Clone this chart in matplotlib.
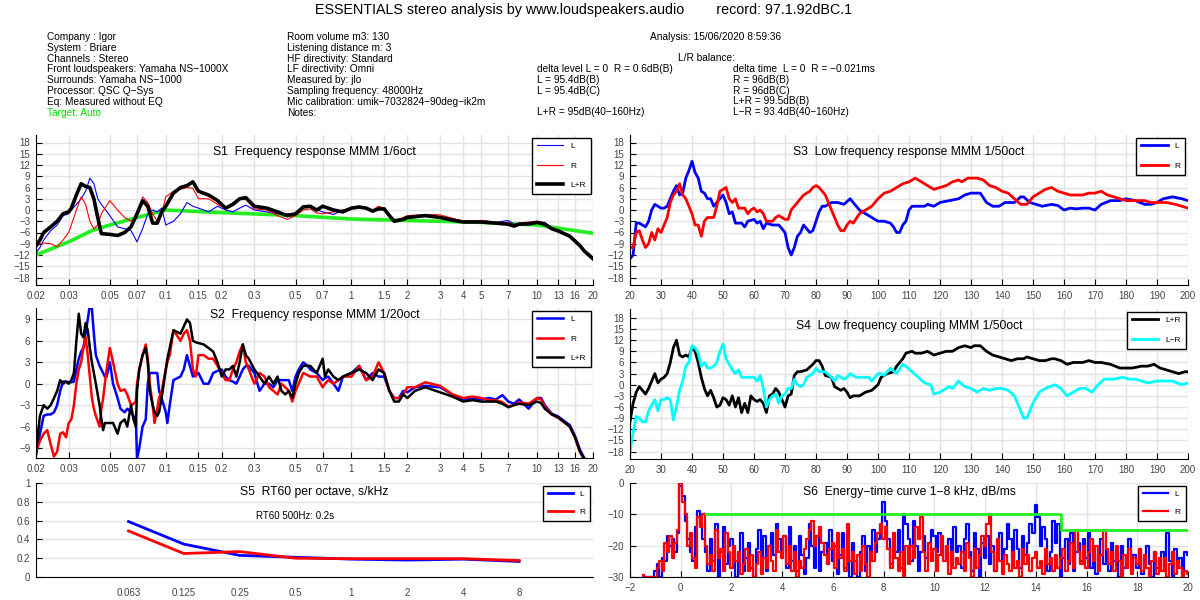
import numpy as np
import matplotlib
matplotlib.use('Agg')
import matplotlib.pyplot as plt

plt.rcParams['font.family'] = ['Liberation Sans', 'DejaVu Sans']

# ---------------- S1 : 1/6 oct response (kHz, dB) ----------------
s1_f = [0.02, 0.021, 0.022, 0.024, 0.026, 0.028, 0.03, 0.031, 0.033, 0.035, 0.037, 0.039,
        0.041, 0.043, 0.045, 0.05, 0.055, 0.06, 0.065, 0.07, 0.075, 0.08, 0.085, 0.09, 0.095,
        0.1, 0.11, 0.12, 0.13, 0.14, 0.15, 0.17, 0.19, 0.21, 0.23, 0.25, 0.27, 0.3, 0.35, 0.4,
        0.45, 0.5, 0.55, 0.6, 0.65, 0.7, 0.8, 0.9, 1.0, 1.1, 1.2, 1.3, 1.4, 1.5, 1.6, 1.7, 1.9,
        2.0, 2.5, 3, 3.5, 4, 5, 6, 7, 7.5, 8, 9, 10, 11, 12, 13, 15, 17, 18, 20]
s1_sum = [-9.5, -8, -6, -4.5, -3, -1, -0.5, 0.5, 4, 7, 6.3, 6, 3, -2, -6.3, -6.5, -6.8, -6,
          -4.5, -1, 2.5, 1, -3.5, -3.5, -0.5, 1, 4.5, 6, 6.5, 7.5, 5, 4, 2.5, 0.5, 1.5, 3, 3.3,
          1, 0.5, -0.5, -1.5, -1, 0.8, 1, 0, 1, 0, -0.5, 0.5, 0.8, 0.5, -0.3, 0.3, 0.3, -1.5, -3,
          -2.5, -2, -1.5, -2, -2.7, -3.2, -3.2, -3.5, -3.8, -4.3, -3.8, -3.7, -3.3, -3.8, -5,
          -5.6, -7, -9.5, -11, -13]
s1_L = [-11.5, -10, -8, -5.5, -4, -1.5, -1, 0, 1.5, 3, 5, 8.5, 7, 3, 1.5, -1.5, -4.5, -5,
        -5.5, -8.5, -5, -1, 0, -0.5, 0.5, -4, -3, -1, 2, 1, 0.5, -0.5, 1, 0, -0.5, 0.5, 1.3,
        0, -0.5, -1, -1, -1, 1.2, 1.2, 0, -0.5, -1.2, 0, 0.5, 1, 0.5, 0, 0.5, 0, -1.5, -2.8,
        -2.3, -1.8, -1.3, -1.8, -2.3, -3, -2.8, -3.3, -2.8, -3.8, -3.5, -3.5, -3.2, -3.3, -4.8,
        -5.4, -6.8, -9.2, -10.7, -12.7]
s1_R = [-10, -9, -8.8, -9, -9.8, -8, -6, -4, 0, 3.5, 1.5, -3, -5, -4, -1, 2.5, 0, -2, -3,
        -2, 3.5, 2, -1, -3, -1, 3.5, 5, 5.5, 6, 5.8, 3, 3, 1.5, 0.5, 2, 2.8, 2.8, 0.3, 0,
        -1.5, -2.5, -1.5, 0, 0.3, -0.8, -1, -0.5, 0, 0.5, 1, 0.6, 0, 1, 0.5, -1.5, -2.8, -2,
        -1.5, -1.2, -1.3, -2.2, -3, -2.8, -3.3, -3.3, -4, -3.5, -3.2, -3, -3.5, -4.8, -5.3,
        -6.8, -9.3, -10.8, -12.8]
target_f = [0.02, 0.03, 0.04, 0.05, 0.07, 0.1, 0.2, 0.5, 1, 2, 5, 10, 20]
target_db = [-12, -8.5, -5.5, -4, -2, 0, -0.7, -1.5, -2.4, -2.8, -3.3, -4, -6.2]

# ---------------- S2 : 1/20 oct response ----------------
s2_f = [0.02, 0.021, 0.022, 0.023, 0.024, 0.025, 0.026, 0.027, 0.028, 0.029, 0.03, 0.031,
        0.032, 0.033, 0.034, 0.035, 0.036, 0.037, 0.038, 0.039, 0.04, 0.041, 0.042, 0.044,
        0.045, 0.046, 0.047, 0.048, 0.05, 0.052, 0.055, 0.057, 0.06, 0.062, 0.065, 0.067,
        0.069, 0.07, 0.072, 0.075, 0.078, 0.08, 0.082, 0.085, 0.087, 0.09, 0.092, 0.095,
        0.1, 0.102, 0.105, 0.11, 0.12, 0.125, 0.13, 0.135, 0.14, 0.145, 0.15, 0.16, 0.17,
        0.18, 0.19, 0.2, 0.21, 0.22, 0.23, 0.24, 0.25, 0.26, 0.27, 0.28, 0.3, 0.32, 0.34,
        0.36, 0.38, 0.4, 0.42, 0.44, 0.46, 0.48, 0.5, 0.52, 0.55, 0.58, 0.6, 0.65, 0.7, 0.72,
        0.75, 0.8, 0.85, 0.9, 1.0, 1.1, 1.2, 1.3, 1.4, 1.5, 1.6, 1.7, 1.8, 1.9, 2.0, 2.2, 2.5,
        3, 3.5, 4, 4.5, 5, 5.5, 6, 6.5, 7, 7.5, 8, 9, 10, 10.5, 11, 12, 13, 15, 16, 17, 18]
s2_sum = [-9.5, -4.5, -3, -3.5, -3, -2, -1, 0.5, 0, 0.3, 0, 0.5, 1.5, 6, 9.8, 7, 6.5, 8.5,
          7.5, 5, 3, 1.5, 0, -3, -5, -6.5, -5.5, -5.5, -5.5, -5.5, -7, -5.5, -5, -6, -3, -5,
          -6, -1, 2, 4, 5, 3, -1, -3, -4, -4.5, -4, -2, 2, 3.5, 5, 7.5, 7, 8, 9, 8.5, 6, 5.8,
          5.7, 5.5, 5, 4.5, 3, 1, 2, 2, 2.5, 1, 3, 5.5, 4, 3.5, 2, 1, 0, 1, 0, 1, -1, -1.5,
          -1, -2, 0, 1.5, 2.5, 2.5, 2.5, 1.5, 3.5, 1, 2, 1, 0.5, 1, 1.5, 2, 1.5, 0.5, 2, 1.5,
          -1, -2.5, -2.5, -1.5, -2, -1, -0.5, -1.2, -1.8, -2.5, -2.3, -2.5, -2.5, -2.5, -2.8,
          -3.3, -3, -2.8, -3, -2.5, -2.7, -3.5, -4.3, -4.7, -6, -7.5, -9.5, -10.5]
s2_L = [-10, -7, -4.5, -4.3, -4.3, -4, -3, -1, 0.3, 0.3, 0.2, 0.2, 0.3, 2, 3.5, 4.5, 5,
        7, 9, 11, 10.5, 7, 4, 2.5, 2, 1.5, 1, 1, 3, 0, -2, -3.5, -4, -3.5, -4, -4.5, -5,
        -10.5, -9, -6, -5, 0, 1.5, 1.5, 1.5, 1.5, -1, -2, -4, -5.5, -3, 0.5, 1, 2, 4, 2.5,
        1, 1.2, 1.5, 0, 0, 1.5, 1.8, 2, 1, 0.5, 0.3, 0, 1, 2, 2.5, 2.5, 1.5, -1, 0, 0, -0.5,
        0.5, 0.5, 0.5, 0.5, -1, 1, 2, 3, 2.5, 2, 1.5, 0.5, 0.8, 1, 0, -1, 1, 1.5, 2.5, 0.5,
        1.5, 1, 1, -1, -2, -2, -1, -1.2, -0.5, -0.3, -0.5, -1.5, -2.2, -2, -2.2, -2, -2.2,
        -1.6, -2.5, -2.8, -2.2, -3.5, -2, -2, -3, -4.2, -4.6, -5.8, -7.3, -9.2, -10.5]
s2_R = [-9.5, -8, -7, -6.5, -8.5, -10.2, -9.5, -7, -6.8, -7.5, -5.5, -5, -3, 0, 2, 3, 5,
        6.5, 4, 1, -2, -3.5, -4.5, -6, -3.5, -2, 0, 2, 5, 3, 0, -1, -0.8, -1.5, -3, -2.8,
        -2.5, 0, 2, 4, 5.5, 3.5, 0, -3, -5.5, -3.5, -2, -1, 2, 3, 4, 7.5, 6, 7, 7.5, 6, 2,
        1, 4, 4, 3.5, 3.5, 2.5, 1.5, 0.5, 0.5, 2, 3, 4.5, 5.5, 3, 2, 0, 1.5, 1, -0.5, -1,
        -1.5, 0, -0.5, -1, -2.5, -1, 0, 1.5, 1.2, 1, 1, -0.5, 0, 0.5, 0, 0.5, 1, 1, 2.5,
        0.5, 1, 3, 1.5, -1, -2, -2, -1.5, -0.5, -0.5, 0.2, -0.3, -1.5, -2, -1.8, -2, -2.3,
        -2.3, -2.6, -3.2, -3, -2.6, -2.8, -2, -2.2, -3.2, -4.3, -4.8, -6, -7.5, -9.5, -10.8]

# ---------------- S3 : low frequency response 1/50 oct (Hz, dB) ----------------
s3L_f = [20, 21, 22, 23, 24, 25, 26, 27, 28, 29, 30, 31, 32, 33, 34, 35, 36, 37, 38, 39,
         40, 41, 42, 43, 44, 45, 46, 47, 48, 49, 50, 51, 52, 53, 54, 56, 57, 58, 60, 61, 62,
         63, 64, 66, 68, 70, 71, 72, 73, 74, 75, 76, 77, 78, 79, 80, 81, 82, 83, 85, 87, 89,
         91, 92, 94, 96, 98, 100, 102, 104, 105, 106, 107, 108, 109, 110, 111, 113, 115,
         116, 118, 120, 123, 126, 128, 130, 132, 133, 135, 137, 139, 141, 144, 146, 147,
         149, 151, 153, 156, 158, 160, 162, 164, 166, 168, 170, 172, 175, 178, 180, 183,
         186, 188, 190, 192, 195, 198, 200]
s3L_db = [-13, -12, -3.5, -3.5, -4, -4.5, -3, 0, 1.5, 1, 0.5, 0.5, 1, 3, 5, 6.5, 4, 4.5,
          8.5, 10.5, 13, 10, 8.5, 5, 4.5, 3, 3, 1, 2, 3, 4, 2, -1, -0.5, -3.5, -3.5, -4.5,
          -3, -2.5, -3.5, -3, -5, -3.5, -4, -4, -6, -10, -12, -10, -7, -6, -4, -5, -6, -5.5,
          -3, -0.5, 1, 1, 2, 2, 1.5, 3, 2, 0, -1, -2, -3, -3, -3.5, -4.5, -6, -6, -4, -3, 0,
          1, 1, 1, 1.5, 1, 2, 2.5, 3, 4, 4.5, 4.5, 4.5, 2, 1, 1, 2, 2, 3.5, 3.5, 2, 1.5, 1,
          1.5, 1.2, 0, 0.5, 0.3, 0.5, 0.5, 0, 1.5, 2.5, 2.5, 3, 2.5, 1.5, 1.5, 2, 3, 3.5, 3,
          2.5]
s3R_f = [20, 21, 22, 23, 24, 25, 26, 27, 28, 29, 30, 31, 32, 33, 34, 35, 36, 37, 38, 39,
         40, 41, 42, 43, 44, 45, 47, 48, 49, 50, 51, 52, 53, 54, 55, 57, 58, 59, 60, 61, 62,
         63, 64, 66, 67, 68, 70, 71, 72, 74, 76, 78, 79, 80, 81, 83, 84, 85, 86, 87, 88, 89,
         90, 91, 92, 94, 96, 97, 98, 100, 102, 104, 106, 108, 110, 112, 113, 115, 117, 118,
         120, 122, 124, 126, 127, 129, 132, 134, 136, 138, 140, 142, 144, 146, 148, 150,
         152, 154, 156, 158, 160, 162, 164, 166, 168, 170, 172, 174, 176, 178, 180, 183,
         186, 188, 190, 193, 196, 198, 200]
s3R_db = [-10, -10, -6, -5.5, -8, -10, -9, -6, -8, -5, -6, -4, -2, 2, 4, 5, 7, 4, 3, 1, -1,
          -4, -4, -7, -3, -2, -2, 1, 5, 5.5, 6, 3, 2, 3, 0.5, 0.5, -1, 0, 0.5, -0.5, 0, -1,
          -3, -3, -2, -1.5, -2.5, -2.5, 0, 2, 4, 5, 6, 6.5, 6, 4, 2, 0, -2, -4, -5.5, -5.5,
          -4, -3, -3.5, -1, 0, 0.5, 1, 3, 4.5, 5, 6, 7, 7.5, 8.5, 8, 7, 6, 5.5, 6, 6.5, 7.5,
          8, 7.5, 8.5, 8.5, 8, 6.5, 6, 5, 4.5, 3, 1.5, 1.5, 3.5, 4.5, 5.5, 6, 5, 4.5, 4, 4,
          4, 4.5, 4.5, 5, 4, 3.5, 3, 2.5, 2.5, 2.5, 2, 2, 2, 1.5, 1, 0.5]

# ---------------- S4 : low frequency coupling ----------------
s4S_f = [20, 21, 22, 23, 24, 25, 26, 27, 28, 29, 30, 31, 32, 33, 34, 35, 36, 37, 38, 39,
         40, 41, 42, 43, 44, 45, 46, 47, 48, 49, 50, 51, 52, 53, 54, 55, 56, 57, 58, 59, 60,
         61, 62, 63, 64, 65, 66, 67, 68, 69, 70, 71, 72, 73, 74, 75, 77, 79, 80, 81, 82, 83,
         85, 86, 88, 89, 90, 91, 92, 94, 96, 98, 100, 101, 103, 105, 106, 108, 109, 111,
         112, 114, 116, 118, 120, 122, 124, 126, 128, 130, 131, 133, 135, 137, 139, 141,
         143, 145, 147, 148, 150, 152, 154, 156, 157, 159, 161, 163, 166, 168, 170, 172,
         175, 178, 182, 185, 187, 189, 191, 193, 195, 197, 199, 200]
s4S_db = [-10, -5, -2, -0.5, -1.5, -2.5, -1, 1, 3, 0.5, 1.5, 2, 3, 6, 10, 12, 8, 7.5, 8,
          7.5, 10, 9, 6, 2, -1, -3, -1.5, -3.5, -6, -5.5, -3.5, -4, -5.5, -3, -6, -3.5,
          -7.5, -5, -7.5, -3, -4, -4.5, -4, -5, -7.5, -3, -2.5, -1, -2, -4, -6, -3, -2.5, 2.5,
          3.5, 3.5, 4, 5.5, 6.5, 6.5, 5, 2.5, 2, -0.5, -1.5, -1, -2, -3.5, -3, -3, -2, -1.5,
          0, 2, 3, 3.5, 5, 7, 8.5, 9, 8.5, 8.5, 9, 8, 8.5, 9, 9, 10, 10.5, 10, 10.5, 10.5, 9,
          8, 7.5, 7, 6.5, 7, 7, 7.5, 7, 6.5, 6.5, 7, 7, 6.5, 5.5, 6, 6, 6.5, 6, 6, 5.5, 4.5,
          4.5, 5, 5, 5.5, 4.5, 4, 3.5, 3, 3.5, 3.5]
s4D_f = [20, 21, 22, 23, 24, 25, 26, 27, 28, 29, 30, 31, 32, 33, 34, 35, 36, 37, 38, 39,
         40, 41, 42, 43, 44, 45, 46, 47, 48, 49, 50, 51, 52, 53, 54, 55, 56, 58, 60, 61, 62,
         63, 64, 65, 66, 67, 68, 69, 70, 71, 72, 73, 74, 75, 76, 77, 79, 80, 81, 83, 85, 86,
         87, 88, 89, 90, 91, 93, 95, 97, 98, 100, 101, 102, 103, 104, 106, 108, 109, 111,
         113, 115, 117, 118, 120, 122, 123, 124, 126, 128, 130, 132, 134, 136, 138, 140,
         142, 144, 146, 147, 148, 150, 152, 154, 157, 159, 161, 163, 165, 167, 169, 171,
         173, 176, 179, 181, 183, 185, 187, 190, 193, 195, 198, 200]
s4D_db = [-18, -13, -8.5, -9, -10, -10, -7, -5.5, -4, -7, -4, -4, -3.5, -4, -9.5, -6, -1.5,
          1, 5, 6, 10.5, 10, 8.5, 5, 6, 4.5, 4.5, 5, 6, 9, 11, 7, 5.5, 4, 3, 4, 2, 2, 2, 1,
          2.5, -1, -6, -4, -3, -2.5, -5, -3, -2.5, -1, -1, 1.5, 0, -0.5, 0, 2, 3, 4.5, 3.5,
          3.5, 2, 1, 2.5, 2, 1.5, 2, 3, 2, 2, 2, 1, 3, 3, 2.5, 3.5, 4.5, 3, 5.5, 5, 3.5, 2,
          0.5, 0, -2.5, -2, -1, -0.5, -1, 1, -0.5, -1, -2, -1, -1.5, -1, -1, -1.5, -3, -7,
          -9, -9, -5, -2, -1, 0, -1, -3, -2, -1, -1, -2, 0, 1.5, 1.5, 2, 1.5, 1.5, 1, 0.5, 1,
          1, 1, 0, 0.5]

# ---------------- S5 : RT60 per octave (kHz, s) ----------------
rt_f = [0.063, 0.125, 0.25, 0.5, 1, 2, 4, 8]
rt_labels = ['0.063', '0.125', '0.25', '0.5', '1', '2', '4', '8']
rt_L = [0.59, 0.35, 0.23, 0.21, 0.19, 0.18, 0.19, 0.165]
rt_R = [0.49, 0.25, 0.27, 0.20, 0.195, 0.195, 0.195, 0.175]

# ---------------- S6 : energy-time curve (ms, dB), 0.1 ms steps from -1.5 ----------------
etc_t0 = -1.5
etc_L = [-30, -30, -30, -30, -30,
         -28, -26, -30, -24, -25, -17, -20, -18, -22, -16,
         -1, -4, -12, -18, -22, -25, -14, -9, -12, -18,
         -22, -28, -18, -25, -13, -30, -22, -14, -26, -20,
         -18, -25, -30, -22, -16, -28, -24, -19, -27, -30,
         -21, -15, -25, -17, -28, -20, -16, -23, -13, -18,
         -22, -17, -27, -14, -25, -20, -28, -17, -23, -29,
         -24, -13, -20, -27, -17, -28, -22, -19, -26, -15,
         -25, -20, -29, -23, -16, -27, -21, -30, -19, -25,
         -30, -22, -17, -28, -20, -25, -15, -22, -18, -14,
         -6, -12, -18, -26, -20, -22, -15, -27, -10, -13,
         -18, -25, -12, -20, -28, -22, -17, -24, -19, -15,
         -17, -22, -16, -20, -25, -21, -18, -26, -14, -22,
         -20, -27, -18, -13, -22, -28, -16, -21, -30, -19,
         -24, -17, -26, -20, -28, -23, -16, -25, -21, -13,
         -18, -24, -15, -21, -27, -17, -23, -19, -13, -16,
         -7, -11, -20, -14, -18, -28, -22, -12, -19, -13,
         -30, -24, -18, -26, -16, -28, -22, -19, -25, -18,
         -24, -16, -27, -20, -29, -23, -18, -26, -21, -28,
         -19, -25, -22, -30, -20, -27, -24, -18, -28, -23,
         -27, -21, -29, -24, -20, -26, -30, -22, -27, -25,
         -22, -28, -16, -25, -30, -21, -27, -24, -29, -22,
         -23]
etc_R = [-29.5, -30, -30, -30, -30,
         -30, -27, -25, -28, -19, -22, -17, -24, -19, -15,
         0, -6, -10, -20, -16, -24, -27, -11, -14, -10,
         -20, -26, -23, -28, -15, -24, -21, -28, -16, -22,
         -27, -20, -25, -22, -29, -26, -21, -28, -23, -30,
         -26, -22, -29, -24, -27, -20, -25, -28, -15, -22,
         -24, -17, -26, -20, -28, -22, -30, -25, -27, -21,
         -18, -15, -12, -20, -17, -14, -19, -23, -26, -21,
         -19, -27, -16, -24, -21, -28, -13, -25, -22, -29,
         -23, -28, -20, -26, -30, -22, -25, -19, -16, -13,
         -18, -14, -21, -27, -16, -24, -28, -22, -30, -20,
         -26, -20, -24, -14, -18, -11, -22, -28, -19, -25,
         -21, -28, -23, -17, -25, -20, -29, -22, -27, -24,
         -26, -22, -28, -19, -24, -30, -21, -27, -23, -17,
         -20, -13, -10, -22, -28, -18, -25, -29, -23, -26,
         -28, -22, -27, -25, -30, -21, -26, -23, -28, -24,
         -22, -27, -25, -29, -21, -26, -24, -28, -23, -27,
         -24, -21, -28, -25, -19, -27, -15, -22, -26, -20,
         -27, -22, -18, -25, -20, -28, -23, -15, -21, -26,
         -22, -28, -20, -25, -30, -23, -27, -21, -29, -24,
         -26, -21, -28, -23, -27, -30, -25, -22, -29, -24,
         -28, -24, -30, -26, -22, -29, -25, -27, -30, -28,
         -29]
etc_target_t = [1, 15, 15, 20]
etc_target_db = [-10, -10, -15, -15]

# ---------------- header text ----------------
title_txt = 'ESSENTIALS stereo analysis by www.loudspeakers.audio        record: 97.1.92dBC.1'
col1 = ['Company : Igor', 'System : Briare', 'Channels : Stereo',
        'Front loudspeakers: Yamaha NS\u22121000X', 'Surrounds: Yamaha NS\u22121000',
        'Processor: QSC Q\u2212Sys', 'Eq: Measured without EQ']
col2 = ['Room volume m3: 130', 'Listening distance m: 3', 'HF directivity: Standard',
        'LF directivity: Omni', 'Measured by: jlo', 'Sampling frequency: 48000Hz',
        'Mic calibration: umik\u22127032824\u221290deg\u2212ik2m', 'Notes:']
col3 = ['delta level L = 0  R = 0.6dB(B)', 'L = 95.4dB(B)', 'L = 95.4dB(C)', '',
        'L+R = 95dB(40\u2212160Hz)']
col4 = ['delta time  L = 0  R = \u22120.021ms', 'R = 96dB(B)', 'R = 96dB(C)',
        'L+R = 99.5dB(B)', 'L\u2212R = 93.4dB(40\u2212160Hz)']

log_ticks = [0.02, 0.03, 0.05, 0.07, 0.1, 0.15, 0.2, 0.3, 0.5, 0.7, 1, 1.5, 2, 3, 4, 5, 7,
             10, 13, 16, 20]
log_labels = ['0.02', '0.03', '0.05', '0.07', '0.1', '0.15', '0.2', '0.3', '0.5', '0.7',
              '1', '1.5', '2', '3', '4', '5', '7', '10', '13', '16', '20']

HDR = 7.3  # header font size


def style(ax, xgrid=True):
    for s in ['top', 'right']:
        ax.spines[s].set_visible(False)
    ax.tick_params(direction='in', labelsize=7, colors='black', labelcolor='#444444',
                   length=4, pad=4)
    ax.minorticks_off()
    ax.grid(True, axis='y', color='#e3e3e3', linewidth=1)
    if xgrid:
        ax.grid(True, axis='x', color='#e3e3e3', linewidth=1)
    ax.set_axisbelow(True)


def legend(ax, **kw):
    opts = dict(loc='upper right', fontsize=6, fancybox=False, edgecolor='black',
                framealpha=1, handlelength=3.2, labelspacing=1.4, borderpad=0.6,
                borderaxespad=0.3)
    opts.update(kw)
    leg = ax.legend(**opts)
    leg.get_frame().set_linewidth(1)
    return leg


def panel_title(ax, txt, y):
    ax.text(0.5, y, txt, transform=ax.transAxes, ha='center', va='center', fontsize=8.7)


fig = plt.figure(figsize=(12, 6), dpi=100)

fig.text(315/1200, 1 - 10/600, title_txt, fontsize=10.3, va='center', ha='left')
for i, t in enumerate(col1):
    fig.text(47/1200, 1 - (37 + 10.8*i)/600, t, fontsize=HDR, va='center')
fig.text(47/1200, 1 - (37 + 10.8*7)/600, 'Target: Auto', fontsize=HDR, va='center',
         color='#00e000')
for i, t in enumerate(col2):
    fig.text(287/1200, 1 - (37 + 10.8*i)/600, t, fontsize=HDR, va='center')
fig.text(650/1200, 1 - 37/600, 'Analysis: 15/06/2020 8:59:36', fontsize=HDR, va='center')
fig.text(678/1200, 1 - 58/600, 'L/R balance:', fontsize=HDR, va='center')
for i, t in enumerate(col3):
    fig.text(537/1200, 1 - (69 + 10.8*i)/600, t, fontsize=HDR, va='center')
for i, t in enumerate(col4):
    fig.text(733/1200, 1 - (69 + 10.8*i)/600, t, fontsize=HDR, va='center')

# axes boxes (pixels -> figure fraction)
L1, W1 = 36/1200, 557/1200
L2, W2 = 630/1200, 558/1200
ax1 = fig.add_axes([L1, 1 - 285/600, W1, 150/600])
ax2 = fig.add_axes([L1, 1 - 458/600, W1, 150/600])
ax5 = fig.add_axes([L1, 1 - 577/600, W1, 94/600])
ax3 = fig.add_axes([L2, 1 - 285/600, W2, 150/600])
ax4 = fig.add_axes([L2, 1 - 459/600, W2, 150/600])
ax6 = fig.add_axes([L2, 1 - 577/600, W2, 94/600])

# S1
ax1.semilogx(s1_f, s1_L, color='blue', lw=0.8, label='L')
ax1.semilogx(s1_f, s1_R, color='red', lw=0.8, label='R')
ax1.semilogx(s1_f, s1_sum, color='black', lw=2.6, label='L+R')
ax1.semilogx(target_f, target_db, color='#22ee22', lw=2.6, zorder=1.5)
ax1.set_xlim(0.02, 20)
ax1.set_ylim(-20, 20)
ax1.set_yticks(np.arange(-18, 19, 3))
ax1.set_xticks(log_ticks)
ax1.set_xticklabels(log_labels)
style(ax1)
panel_title(ax1, 'S1  Frequency response MMM 1/6oct', 0.89)
legend(ax1)

# S2
ax2.semilogx(s2_f, s2_L, color='blue', lw=1.8, label='L')
ax2.semilogx(s2_f, s2_R, color='red', lw=1.8, label='R')
ax2.semilogx(s2_f, s2_sum, color='black', lw=1.8, label='L+R')
ax2.set_xlim(0.02, 20)
ax2.set_ylim(-10.4, 10.6)
ax2.set_yticks(np.arange(-9, 10, 3))
ax2.set_xticks(log_ticks)
ax2.set_xticklabels(log_labels)
style(ax2)
panel_title(ax2, 'S2  Frequency response MMM 1/20oct', 0.955)
legend(ax2)

# S3
ax3.plot(s3L_f, s3L_db, color='blue', lw=2, label='L')
ax3.plot(s3R_f, s3R_db, color='red', lw=2, label='R')
ax3.set_xlim(20, 200)
ax3.set_ylim(-20, 20)
ax3.set_yticks(np.arange(-18, 19, 3))
ax3.set_xticks(np.arange(20, 201, 10))
style(ax3)
panel_title(ax3, 'S3  Low frequency response MMM 1/50oct', 0.89)
legend(ax3)

# S4
ax4.plot(s4S_f, s4S_db, color='black', lw=2, label='L+R')
ax4.plot(s4D_f, s4D_db, color='cyan', lw=2, label='L\u2212R')
ax4.set_xlim(20, 200)
ax4.set_ylim(-20, 20.4)
ax4.set_yticks(np.arange(-18, 19, 3))
ax4.set_xticks(np.arange(20, 201, 10))
style(ax4)
panel_title(ax4, 'S4  Low frequency coupling MMM 1/50oct', 0.89)
legend(ax4)

# S5
ax5.semilogx(rt_f, rt_L, color='blue', lw=2, label='L')
ax5.semilogx(rt_f, rt_R, color='red', lw=2, label='R')
ax5.set_xlim(0.02, 20)
ax5.set_ylim(0, 1)
ax5.set_yticks([0, 0.2, 0.4, 0.6, 0.8, 1])
ax5.set_yticklabels(['0', '0.2', '0.4', '0.6', '0.8', '1'])
ax5.set_xticks(rt_f)
ax5.set_xticklabels(rt_labels)
style(ax5, xgrid=False)
ax5.tick_params(axis='x', length=0, pad=8)
panel_title(ax5, 'S5  RT60 per octave, s/kHz', 0.9)
ax5.text(0.465, 0.65, 'RT60 500Hz: 0.2s', transform=ax5.transAxes, ha='center',
         va='center', fontsize=7)
legend(ax5, handlelength=3.0, labelspacing=1.2)

# S6
etc_tL = etc_t0 + 0.1*np.arange(len(etc_L))
etc_tR = etc_t0 + 0.1*np.arange(len(etc_R))
ax6.plot(etc_tL, etc_L, color='blue', lw=1.6, label='L', drawstyle='steps-mid')
ax6.plot(etc_tR, etc_R, color='red', lw=1.6, label='R', drawstyle='steps-mid')
ax6.plot(etc_target_t, etc_target_db, color='#22ee22', lw=2)
ax6.set_xlim(-2, 20)
ax6.set_ylim(-30, 0)
ax6.set_yticks([-30, -20, -10, 0])
ax6.set_xticks(np.arange(-2, 21, 2))
style(ax6)
panel_title(ax6, 'S6  Energy\u2212time curve 1\u22128 kHz, dB/ms', 0.9)
legend(ax6, handlelength=3.0, labelspacing=1.2)

fig.savefig('out.png', dpi=100)
